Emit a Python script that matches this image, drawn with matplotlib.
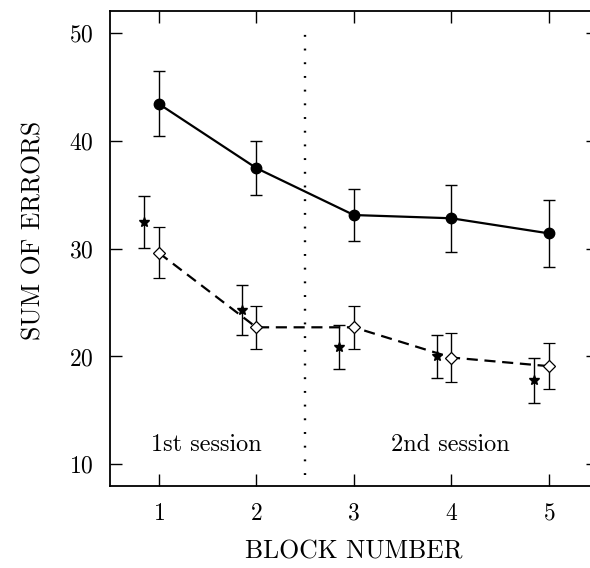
import matplotlib
matplotlib.use("Agg")
import matplotlib.pyplot as plt
import numpy as np

plt.rcParams['font.family'] = ['cmr10', 'DejaVu Serif']
plt.rcParams['axes.formatter.use_mathtext'] = True
plt.rcParams['mathtext.fontset'] = 'cm'

blocks = [1, 2, 3, 4, 5]
solid_vals = [43.4, 37.45, 33.1, 32.8, 31.4]
solid_err = [3.0, 2.5, 2.4, 3.1, 3.1]
diamond_vals = [29.6, 22.7, 22.7, 19.9, 19.1]
diamond_err = [2.35, 2.0, 2.0, 2.25, 2.15]
star_vals = [32.45, 24.3, 20.9, 20.0, 17.8]
star_err = [2.4, 2.3, 2.05, 1.95, 2.1]
star_offset = -0.15
xticks = [1, 2, 3, 4, 5]
yticks = [10, 20, 30, 40, 50]

fig = plt.figure(figsize=(5.9, 5.68), dpi=100)
W, H = 590, 568
left, right, top, bottom = 110, 597.7, 11, 486
ax = fig.add_axes([left / W, 1 - bottom / H, (right - left) / W, (bottom - top) / H])

ax.set_xlim(0.5, 5.5)
ax.set_ylim(8, 52)

ax.vlines(2.5, 9, 50, colors='black', linestyles=(0, (0.8, 5)), linewidth=1.7)

ax.errorbar(blocks, solid_vals, yerr=solid_err, color='black', linestyle='-', linewidth=1.6,
            marker='o', markersize=7.5, markerfacecolor='black', ecolor='black',
            elinewidth=1.0, capsize=4, capthick=1.0, zorder=3)
ax.errorbar(blocks, diamond_vals, yerr=diamond_err, color='black', linestyle=(0, (5, 3)),
            linewidth=1.6, marker='D', markersize=6, markerfacecolor='white',
            markeredgewidth=0.9, ecolor='black', elinewidth=1.0, capsize=4, capthick=1.0,
            zorder=3)
star_x = [b + star_offset for b in blocks]
ax.errorbar(star_x, star_vals, yerr=star_err, color='black', linestyle='none',
            marker='*', markersize=7, markerfacecolor='black', ecolor='black',
            elinewidth=1.0, capsize=4, capthick=1.0, zorder=3)

ax.text(1.49, 11.8, '1st session', ha='center', va='center', fontsize=17.5)
ax.text(3.99, 11.8, '2nd session', ha='center', va='center', fontsize=17.5)

ax.set_xticks(xticks)
ax.set_yticks(yticks)
ax.tick_params(direction='in', length=8.5, width=1.0, labelsize=17,
               top=True, right=True, pad=12)
for s in ax.spines.values():
    s.set_linewidth(1.3)

ax.set_xlabel('BLOCK NUMBER', fontsize=18.5, labelpad=11)
ax.set_ylabel('SUM OF ERRORS', fontsize=18.5)
ax.yaxis.set_label_coords(-0.133, 0.539)

fig.savefig('out.png', dpi=100)
